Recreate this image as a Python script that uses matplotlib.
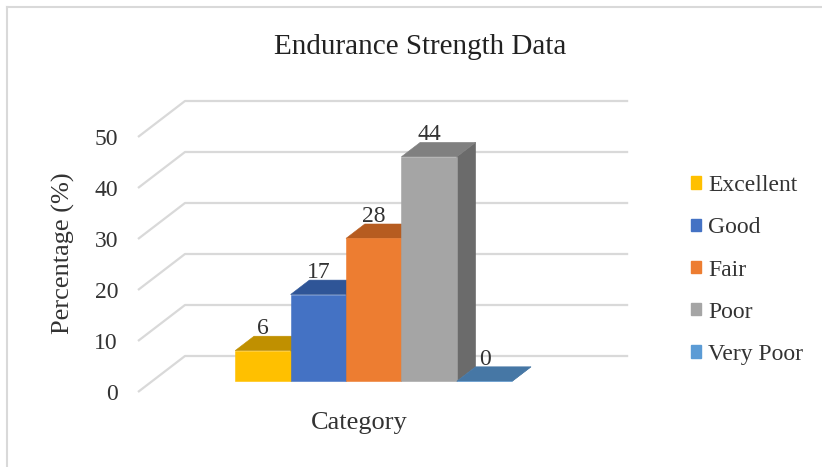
import matplotlib
matplotlib.use("Agg")
import matplotlib.pyplot as plt
from matplotlib.patches import Polygon, Patch
from matplotlib.lines import Line2D

# ---- data ----
categories = ["Excellent", "Good", "Fair", "Poor", "Very Poor"]
percentages = [6, 17, 28, 44, 0]
y_ticks = [0, 10, 20, 30, 40, 50]

title = "Endurance Strength Data"
x_label = "Category"
y_label = "Percentage (%)"

# face shades for the pseudo-3D columns
front_colors = ["#FFC000", "#4472C4", "#ED7D31", "#A5A5A5", "#5B9BD5"]
top_colors = ["#C09000", "#2F5597", "#B65C20", "#808080", "#4677A5"]
side_colors = ["#A67C00", "#2D4F8C", "#9E4E18", "#6B6B6B", "#3D6A91"]

plt.rcParams["font.family"] = ["Liberation Serif", "DejaVu Serif"]
TEXT = "#333333"
GRID = "#D9D9D9"

W, H, DPI = 822, 467, 100
fig = plt.figure(figsize=(W / DPI, H / DPI), dpi=DPI)
ax = fig.add_axes([0, 0, 1, 1])
ax.set_axis_off()

# scales: pixels per category unit and per percentage point
PX_X, PX_Y = 55.4, 5.1
ORIGIN_X, ORIGIN_Y = 138, 75          # front-left corner of the floor (px)
ax.set_xlim(-ORIGIN_X / PX_X, (W - ORIGIN_X) / PX_X)
ax.set_ylim(-ORIGIN_Y / PX_Y, (H - ORIGIN_Y) / PX_Y)

# oblique depth vector (full floor depth) in data units
DX, DY = 47 / PX_X, 36 / PX_Y
FLOOR_W = 8.0
BAR_START = 1.5
D0, D1 = 0.3, 0.7


def proj(x, v, d):
    return (x + d * DX, v + d * DY)


# gridlines: left wall slant + back wall horizontal
for v in y_ticks:
    pts = [proj(0, v, 0), proj(0, v, 1), proj(FLOOR_W, v, 1)]
    ax.plot([p[0] for p in pts], [p[1] for p in pts], color=GRID,
            lw=1.6, zorder=1, solid_capstyle="butt")
    ax.text(-20 / PX_X, v, str(v), ha="right", va="center_baseline",
            fontsize=17, color=TEXT)

# columns, drawn left to right so each covers its neighbour's side face
for i, (v, fc, tc, sc) in enumerate(zip(percentages, front_colors,
                                        top_colors, side_colors)):
    x0 = BAR_START + i
    x1 = x0 + 1
    side = [proj(x1, 0, D0), proj(x1, 0, D1), proj(x1, v, D1), proj(x1, v, D0)]
    top = [proj(x0, v, D0), proj(x1, v, D0), proj(x1, v, D1), proj(x0, v, D1)]
    front = [proj(x0, 0, D0), proj(x1, 0, D0), proj(x1, v, D0), proj(x0, v, D0)]
    z = 2 + i
    for poly, c in ((side, sc), (top, tc), (front, fc)):
        ax.add_patch(Polygon(poly, closed=True, facecolor=c, edgecolor=c,
                             lw=0.4, zorder=z))
    lx = proj(x0 + 0.5, v, D0)[0]
    ly = proj(x0 + 0.5, v, D1)[1] + 2 / PX_Y
    ax.text(lx, ly, f"{v:g}", ha="center", va="baseline", fontsize=17,
            color=TEXT, zorder=10)

# axis titles
ax.text(FLOOR_W / 2, -28 / PX_Y, x_label, ha="center", va="center_baseline",
        fontsize=19, color=TEXT)
fig.text(63 / W, 1 - 253 / H, y_label, rotation=90, ha="center", va="center",
         fontsize=19, color=TEXT)
fig.text(420 / W, 1 - 54 / H, title, ha="center", va="baseline",
         fontsize=21, color="#222222")

# legend
handles = [Patch(facecolor=c, edgecolor=c) for c in front_colors]
leg = fig.legend(handles, categories, loc="upper left",
                 bbox_to_anchor=(691 / W, 1 - 175 / H), frameon=False,
                 fontsize=17, handlelength=0.42, handleheight=0.42,
                 handletextpad=0.3, labelspacing=0.9, borderpad=0,
                 borderaxespad=0)
for t in leg.get_texts():
    t.set_color(TEXT)

# chart area border
fig.add_artist(Line2D([7 / W, 7 / W], [0, 1 - 7 / H], color=GRID, lw=1.5,
                      transform=fig.transFigure))
fig.add_artist(Line2D([7 / W, 1], [1 - 7 / H, 1 - 7 / H], color=GRID, lw=1.5,
                      transform=fig.transFigure))

fig.savefig("out.png", dpi=DPI)
